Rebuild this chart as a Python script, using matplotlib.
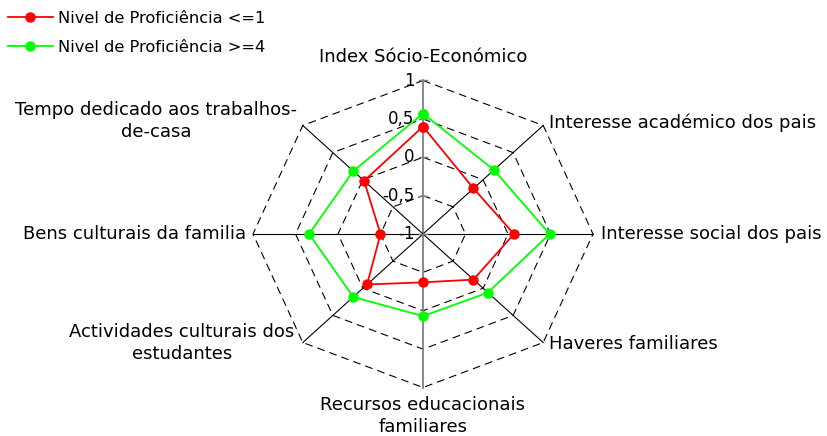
import numpy as np
import matplotlib
matplotlib.use("Agg")
import matplotlib.pyplot as plt

plt.rcParams['font.family'] = ['DejaVu Sans']

# data (clockwise from top)
categories = ["Index Sócio-Económico", "Interesse académico dos pais",
              "Interesse social dos pais", "Haveres familiares",
              "Recursos educacionais\nfamiliares",
              "Actividades culturais dos\nestudantes",
              "Bens culturais da familia",
              "Tempo dedicado aos trabalhos-\nde-casa"]
nivel_baixo = [0.40, -0.16, 0.07, -0.16, -0.37, -0.07, -0.50, -0.02]
nivel_alto = [0.57, 0.18, 0.49, 0.08, 0.07, 0.16, 0.34, 0.16]
ticks = [-1, -0.5, 0, 0.5, 1]
tick_labels = ["-1", "-0,5", "0", "0,5", "1"]
series_names = ["Nivel de Proficiência <=1", "Nivel de Proficiência >=4"]

vmin = -1
n = len(categories)
theta = np.arange(n) * 2 * np.pi / n


def to_xy(vals):
    r = np.asarray(vals) - vmin
    x = r * np.sin(theta)
    y = r * np.cos(theta)
    # close polygon
    return np.append(x, x[0]), np.append(y, y[0])


W, H = 828, 436
fig = plt.figure(figsize=(W / 100, H / 100), dpi=100)
ax = fig.add_axes([0, 0, 1, 1])
cx, cy = 423, 234
sx, sy = 85.0, 76.75   # pixels per unit
ax.set_xlim(-cx / sx, (W - cx) / sx)
ax.set_ylim(-(H - cy) / sy, cy / sy)
ax.axis("off")

rmax = ticks[-1] - vmin

# grid octagons
for t in ticks[1:]:
    gx, gy = to_xy([t] * n)
    ax.plot(gx, gy, color="black", lw=0.8, ls=(0, (7, 4.5)), zorder=1)

# spokes
for i in range(n):
    col, lw = ("#7f7f7f", 1.3) if i in (0, 4) else ("black", 0.8)
    ax.plot([0, rmax * np.sin(theta[i])], [0, rmax * np.cos(theta[i])],
            color=col, lw=lw, zorder=2)

# value ticks on top axis
for t, lab in zip(ticks, tick_labels):
    r = t - vmin
    ax.plot([-0.045, 0.045], [r, r], color="#7f7f7f", lw=1.0, zorder=2)
    ax.text(-0.1, r, lab, ha="right", va="center", fontsize=12)

# series
bx, by = to_xy(nivel_baixo)
ax_, ay_ = to_xy(nivel_alto)
l1, = ax.plot(bx, by, color="#ff0000", lw=1.3, marker="o", ms=6.5,
              mec="#ff0000", label=series_names[0], zorder=4)
l2, = ax.plot(ax_, ay_, color="#00ff00", lw=1.3, marker="o", ms=6.5,
              mec="#00ff00", label=series_names[1], zorder=3)

# category labels (pixel positions of the original layout)
label_pos = [(423, 57, "center"), (549, 123, "left"), (601, 234, "left"),
             (549, 344, "left"), (423, 416, "center"), (182, 343, "center"),
             (246, 234, "right"), (156, 121, "center")]
for name, (px, py, ha) in zip(categories, label_pos):
    ax.text((px - cx) / sx, (cy - py) / sy, name, ha=ha, va="center",
            fontsize=13, multialignment="center", linespacing=1.35)

fig.legend(handles=[l1, l2], loc="upper left", bbox_to_anchor=(8 / W, 1 - 11 / H),
           frameon=False, fontsize=11.7, handlelength=2.75, handletextpad=0.3,
           labelspacing=0.85, borderpad=0, borderaxespad=0)

fig.savefig("out.png", dpi=100)
